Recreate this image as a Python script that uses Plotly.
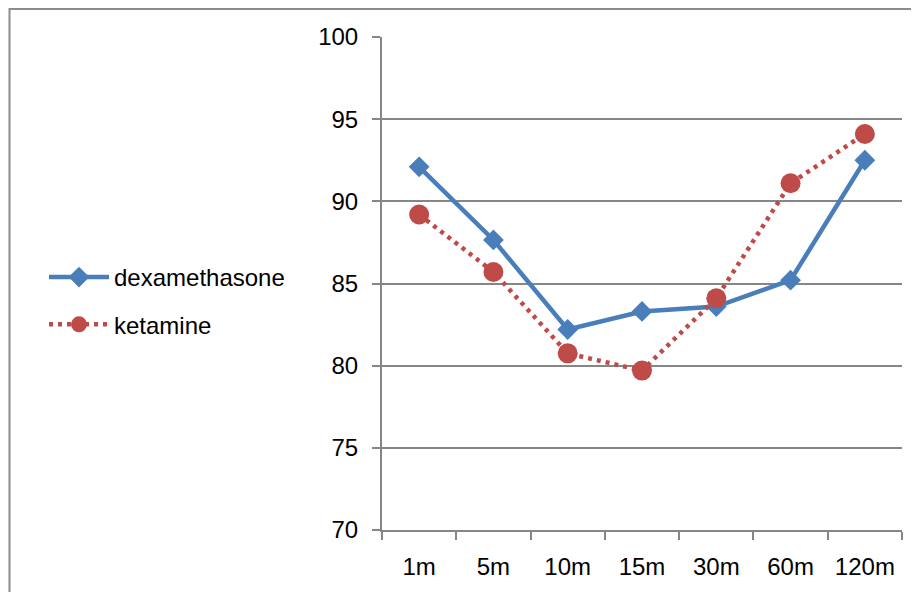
import plotly.graph_objects as go

categories = ["1m", "5m", "10m", "15m", "30m", "60m", "120m"]
dexamethasone = [92.1, 87.65, 82.2, 83.3, 83.6, 85.2, 92.5]
ketamine = [89.2, 85.7, 80.75, 79.7, 84.1, 91.1, 94.1]
y_ticks = [70, 75, 80, 85, 90, 95, 100]

# page body adds an 8px offset; figure coords = screen coords - 8
OFF = 8
W, H = 919 - OFF, 592 - OFF
ML, MR, MT, MB = 382 - OFF, 919 - 902, 37 - OFF, 592 - 530
PW, PH = W - ML - MR, H - MT - MB

FONT = "Liberation Sans"
GRID = "#868686"

fig = go.Figure()
fig.add_trace(go.Scatter(
    x=categories, y=dexamethasone, name="dexamethasone", mode="lines+markers",
    line=dict(color="#4A7EBB", width=4.5),
    marker=dict(symbol="diamond", size=16, color="#4A7EBB"),
    legendgroup="a",
))
fig.add_trace(go.Scatter(
    x=categories, y=ketamine, name="ketamine", mode="lines+markers",
    line=dict(color="#BE4B48", width=4.5, dash="4px,5px"),
    marker=dict(symbol="circle", size=20, color="#BE4B48"),
    legendgroup="b",
))

def px_x(sx):
    return (sx - OFF - ML) / PW

def px_y(sy):
    return (H - (sy - OFF) - MB) / PH

# outer chart border
fig.add_shape(type="rect", xref="paper", yref="paper",
              x0=px_x(9.5), x1=px_x(940),
              y0=px_y(620), y1=px_y(9),
              line=dict(color="#8C8C8C", width=2), fillcolor="rgba(0,0,0,0)",
              layer="below")

fig.update_layout(
    width=W, height=H,
    margin=dict(l=ML, r=MR, t=MT, b=MB),
    paper_bgcolor="white", plot_bgcolor="white",
    font=dict(family=FONT, size=24, color="black"),
    showlegend=True,
    legend=dict(x=px_x(44), xanchor="left", y=px_y(301), yanchor="middle",
                font=dict(family=FONT, size=24, color="black"),
                traceorder="grouped", tracegroupgap=13, itemwidth=60,
                bgcolor="rgba(0,0,0,0)"),
    xaxis=dict(type="category", range=[-0.5, 6.5], tickson="boundaries",
               ticks="outside", ticklen=8, tickcolor=GRID, tickwidth=2,
               showline=True, linecolor=GRID, linewidth=2,
               showgrid=False, zeroline=False, ticklabelstandoff=14,
               tickfont=dict(family=FONT, size=24, color="black")),
    yaxis=dict(range=[70, 100], tickvals=y_ticks, ticks="outside", ticklen=8,
               tickcolor=GRID, tickwidth=2,
               showline=True, linecolor=GRID, linewidth=2,
               showgrid=True, gridcolor=GRID, gridwidth=2, zeroline=False,
               ticklabelstandoff=9,
               tickfont=dict(family=FONT, size=24, color="black")),
)

fig.write_html("out.html")
